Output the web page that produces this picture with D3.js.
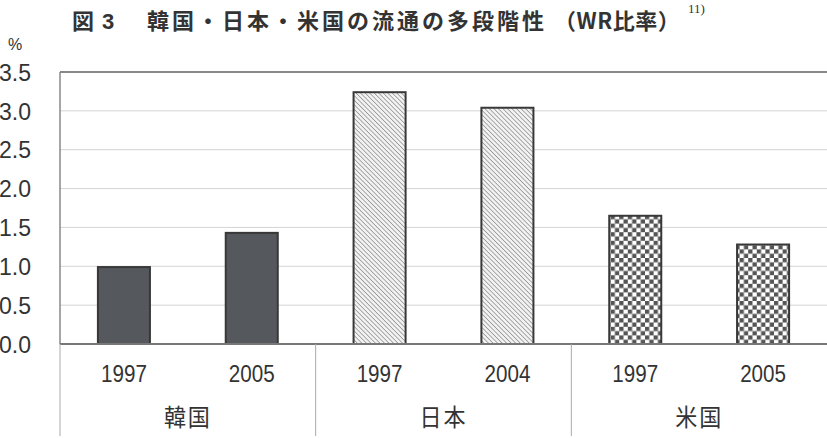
<!DOCTYPE html>
<html>
<head>
<meta charset="utf-8">
<script src="https://cdn.jsdelivr.net/npm/d3@7"></script>
<style>
body { margin: 0; background: #fff; }
text { fill: #333; }
</style>
</head>
<body>
<div class="wr_chart"></div>
<script>
// datos
const countries = ["韓国", "日本", "米国"];
const years = ["1997", "2005", "1997", "2004", "1997", "2005"];
const country_of_bar = ["韓国", "韓国", "日本", "日本", "米国", "米国"];
const wr_values = [0.99, 1.43, 3.24, 3.04, 1.65, 1.28];
const y_ticks = [0, 0.5, 1.0, 1.5, 2.0, 2.5, 3.0, 3.5];

let W = 827, H = 438;
const M = {top: 72, right: 0, bottom: 94, left: 60};

const svg = d3.select(".wr_chart")
	.append("svg")
	.attr("width", W)
	.attr("height", H);

// patrones de relleno
const defs = svg.append("defs");
let hatch = defs.append("pattern")
	.attr("id", "hatch")
	.attr("patternUnits", "userSpaceOnUse")
	.attr("width", 3.2).attr("height", 3.2)
	.attr("patternTransform", "rotate(-45)");
hatch.append("rect").attr("width", 3.2).attr("height", 3.2).attr("fill", "#f2f2f2");
hatch.append("line")
	.attr("x1", 0).attr("y1", 0).attr("x2", 0).attr("y2", 3.2)
	.attr("stroke", "#8a8a8a").attr("stroke-width", 1.4);

let checker = defs.append("pattern")
	.attr("id", "checker")
	.attr("patternUnits", "userSpaceOnUse")
	.attr("width", 8.6).attr("height", 8.6);
checker.append("rect").attr("width", 8.6).attr("height", 8.6).attr("fill", "#fff");
checker.append("rect").attr("width", 4.3).attr("height", 4.3).attr("fill", "#555");
checker.append("rect").attr("x", 4.3).attr("y", 4.3).attr("width", 4.3).attr("height", 4.3).attr("fill", "#555");

const fills = {"韓国": "#55585c", "日本": "url(#hatch)", "米国": "url(#checker)"};

const xScale = d3.scaleBand()
	.domain(d3.range(years.length))
	.range([M.left, W - M.right])
	.paddingInner(0.593)
	.paddingOuter(0.2965);

const yScale = d3.scaleLinear()
	.domain([0, 3.5])
	.range([H - M.bottom, M.top]);

// grid
svg.append("g").selectAll("line")
	.data(y_ticks.filter(t => t > 0 && t < 3.5)).enter()
	.append("line")
	.attr("x1", M.left).attr("x2", W)
	.attr("y1", d => yScale(d)).attr("y2", d => yScale(d))
	.attr("stroke", "#d4d4d4")
	.attr("stroke-width", 1);

// marco
svg.append("line")
	.attr("x1", M.left).attr("x2", W)
	.attr("y1", yScale(3.5)).attr("y2", yScale(3.5))
	.attr("stroke", "#888").attr("stroke-width", 2);
svg.append("line")
	.attr("x1", M.left).attr("x2", M.left)
	.attr("y1", yScale(3.5)).attr("y2", yScale(0))
	.attr("stroke", "#888").attr("stroke-width", 1.5);

// eje y
const yAxis = d3.axisLeft(yScale)
	.tickValues(y_ticks)
	.tickFormat(d3.format(".1f"))
	.tickSize(0)
	.tickPadding(29);
const y_axis = svg.append("g")
	.attr("transform", "translate(" + M.left + ",0)")
	.call(yAxis);
y_axis.select(".domain").remove();
y_axis.selectAll("text")
	.style("font-family", "'Liberation Sans', Arial, sans-serif")
	.style("font-size", "23px")
	.attr("dy", "0.36em")
	.attr("fill", "#333");

svg.append("text")
	.text("%")
	.attr("x", 15).attr("y", 50)
	.style("text-anchor", "middle")
	.style("font-family", "'Liberation Sans', Arial, sans-serif")
	.style("font-size", "16px");

// barras
svg.selectAll(".wr-bar")
	.data(wr_values).enter()
	.append("rect")
	.attr("class", "wr-bar")
	.attr("x", (d, i) => xScale(i))
	.attr("y", d => yScale(d))
	.attr("width", xScale.bandwidth())
	.attr("height", d => yScale(0) - yScale(d))
	.attr("fill", (d, i) => fills[country_of_bar[i]])
	.attr("stroke", "#383838")
	.attr("stroke-width", 2);

// eje x
svg.append("line")
	.attr("x1", M.left).attr("x2", W)
	.attr("y1", yScale(0)).attr("y2", yScale(0))
	.attr("stroke", "#777").attr("stroke-width", 2);

// etiquetas de año (condensadas)
svg.selectAll(".year")
	.data(years).enter()
	.append("text")
	.attr("class", "year")
	.text(d => d)
	.attr("transform", (d, i) => "translate(" + (xScale(i) + xScale.bandwidth() / 2) + ",382) scale(0.86,1)")
	.style("text-anchor", "middle")
	.style("font-family", "'Liberation Sans', sans-serif")
	.style("font-size", "24px");

// separadores de grupo
const step = xScale.step();
svg.selectAll(".sep")
	.data(countries).enter()
	.append("line")
	.attr("class", "sep")
	.attr("x1", (d, i) => M.left + i * 2 * step)
	.attr("x2", (d, i) => M.left + i * 2 * step)
	.attr("y1", yScale(0)).attr("y2", 436)
	.attr("stroke", "#aaa").attr("stroke-width", 1);

svg.selectAll(".country")
	.data(countries).enter()
	.append("text")
	.attr("class", "country")
	.text(d => d)
	.attr("transform", (d, i) => "translate(" + (M.left + (i * 2 + 1) * step) + ",426) scale(0.92,1)")
	.style("text-anchor", "middle")
	.style("font-family", "'Noto Sans CJK JP', sans-serif")
	.style("font-size", "24px")
	.style("letter-spacing", "2px");

// titulo
const title = svg.append("text")
	.attr("y", 29)
	.style("font-family", "'Noto Sans CJK JP', sans-serif")
	.style("font-weight", "bold")
	.style("font-size", "22px");
title.append("tspan").attr("x", 72).text("図");
title.append("tspan").attr("x", 102).style("font-family", "'Liberation Sans', sans-serif").text("3");
title.append("tspan").attr("x", 147).style("letter-spacing", "3px")
	.text("韓国・日本・米国の流通の多段階性");
title.append("tspan").attr("x", 554).style("letter-spacing", "0.5px").text("（WR比率）");
svg.append("text")
	.text("11)")
	.attr("x", 688).attr("y", 13)
	.style("font-family", "'Liberation Serif', serif")
	.style("font-size", "13px")
	.attr("fill", "#666");
</script>
</body>
</html>
